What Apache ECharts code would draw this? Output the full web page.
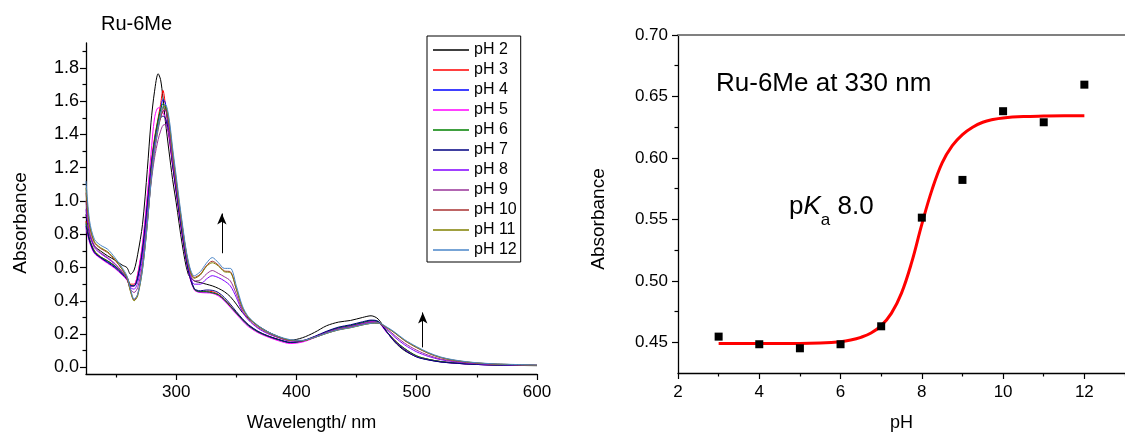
<!DOCTYPE html>
<html><head><meta charset="utf-8">
<script src="https://cdn.jsdelivr.net/npm/echarts@6/dist/echarts.min.js"></script>
<style>html,body{margin:0;padding:0;background:#fff}#c{width:1125px;height:437px}</style>
</head><body><div id="c"></div>
<script>
// ---------- Left panel: UV-vis spectra ----------
const wavelengths = [225,228,232,237,243,249,255,259,262,265,
  268,272,276,279,282,285,287,289,291,294,
  297,300,305,310,315,320,325,330,335,340,
  345,350,355,360,368,376,385,395,405,415,
  425,435,445,455,462,468,475,482,490,500,
  510,520,530,545,565,600];

const absPH2 = [0.92,0.80,0.73,0.70,0.67,0.645,0.615,0.60,0.56,0.585,
  0.68,0.86,1.19,1.47,1.66,1.765,1.73,1.62,1.48,1.30,
  1.13,0.99,0.74,0.56,0.52,0.51,0.50,0.49,0.475,0.455,
  0.425,0.38,0.33,0.295,0.25,0.215,0.185,0.163,0.178,0.21,
  0.25,0.272,0.282,0.30,0.31,0.29,0.215,0.15,0.10,0.064,
  0.045,0.033,0.026,0.019,0.014,0.01];
const absPH3 = [0.88,0.77,0.70,0.665,0.64,0.61,0.57,0.545,0.50,0.50,
  0.56,0.73,1.00,1.22,1.38,1.50,1.58,1.665,1.58,1.40,
  1.22,1.06,0.80,0.585,0.47,0.455,0.458,0.455,0.44,0.41,
  0.37,0.33,0.29,0.255,0.215,0.19,0.168,0.15,0.158,0.183,
  0.213,0.237,0.25,0.268,0.278,0.272,0.215,0.16,0.112,0.068,
  0.048,0.035,0.028,0.02,0.015,0.011];
const absPH4 = [0.86,0.76,0.69,0.66,0.635,0.605,0.565,0.535,0.49,0.49,
  0.54,0.71,0.98,1.20,1.36,1.48,1.55,1.61,1.59,1.42,
  1.23,1.07,0.81,0.59,0.47,0.452,0.452,0.448,0.435,0.405,
  0.365,0.325,0.285,0.25,0.212,0.187,0.165,0.148,0.157,0.182,
  0.212,0.236,0.25,0.268,0.279,0.273,0.213,0.157,0.11,0.066,
  0.047,0.034,0.027,0.019,0.014,0.011];
const absPH5 = [0.84,0.75,0.685,0.655,0.625,0.595,0.555,0.525,0.485,0.49,
  0.56,0.75,1.04,1.28,1.50,1.56,1.56,1.53,1.50,1.38,
  1.21,1.05,0.79,0.58,0.465,0.45,0.448,0.445,0.43,0.40,
  0.36,0.32,0.28,0.245,0.208,0.183,0.16,0.143,0.152,0.178,
  0.208,0.232,0.246,0.264,0.276,0.27,0.21,0.155,0.108,0.064,
  0.046,0.033,0.026,0.019,0.014,0.012];
const absPH6 = [0.87,0.77,0.70,0.665,0.64,0.61,0.57,0.54,0.495,0.49,
  0.54,0.71,0.98,1.20,1.37,1.49,1.55,1.585,1.57,1.42,
  1.23,1.07,0.81,0.59,0.47,0.455,0.455,0.448,0.437,0.407,
  0.367,0.327,0.287,0.252,0.213,0.188,0.166,0.149,0.158,0.183,
  0.213,0.237,0.251,0.269,0.28,0.274,0.216,0.16,0.113,0.069,
  0.048,0.035,0.028,0.02,0.015,0.011];
const absPH7 = [0.85,0.76,0.69,0.66,0.63,0.60,0.56,0.53,0.49,0.49,
  0.54,0.70,0.97,1.18,1.34,1.45,1.50,1.51,1.50,1.40,
  1.22,1.06,0.80,0.585,0.475,0.46,0.465,0.463,0.45,0.42,
  0.38,0.335,0.293,0.257,0.217,0.19,0.168,0.15,0.16,0.186,
  0.217,0.242,0.256,0.274,0.284,0.277,0.213,0.153,0.104,0.062,
  0.044,0.032,0.026,0.019,0.014,0.011];
const absPH8 = [0.95,0.80,0.72,0.685,0.655,0.62,0.575,0.54,0.48,0.47,
  0.51,0.66,0.93,1.16,1.33,1.45,1.51,1.54,1.545,1.43,
  1.25,1.09,0.83,0.61,0.50,0.50,0.53,0.551,0.54,0.52,
  0.49,0.42,0.335,0.285,0.235,0.203,0.178,0.158,0.16,0.182,
  0.21,0.232,0.245,0.262,0.272,0.268,0.228,0.18,0.135,0.093,
  0.065,0.046,0.035,0.024,0.017,0.012];
const absPH9 = [1.0,0.82,0.73,0.69,0.66,0.625,0.575,0.535,0.47,0.45,
  0.48,0.62,0.88,1.10,1.26,1.37,1.42,1.455,1.46,1.40,
  1.25,1.10,0.84,0.62,0.52,0.525,0.56,0.582,0.565,0.545,
  0.52,0.44,0.345,0.29,0.24,0.207,0.18,0.16,0.16,0.181,
  0.208,0.23,0.243,0.26,0.27,0.267,0.233,0.19,0.145,0.103,
  0.072,0.05,0.038,0.026,0.018,0.013];
const absPH10 = [1.05,0.85,0.75,0.715,0.69,0.645,0.59,0.54,0.46,0.405,
  0.44,0.60,0.87,1.12,1.30,1.43,1.50,1.54,1.55,1.46,
  1.29,1.12,0.85,0.63,0.54,0.56,0.61,0.638,0.615,0.58,
  0.575,0.47,0.36,0.30,0.248,0.212,0.183,0.163,0.16,0.18,
  0.205,0.226,0.24,0.256,0.265,0.266,0.24,0.205,0.16,0.118,
  0.083,0.058,0.043,0.029,0.02,0.013];
const absPH11 = [1.08,0.86,0.755,0.72,0.695,0.65,0.59,0.54,0.455,0.40,
  0.43,0.59,0.86,1.12,1.31,1.45,1.52,1.56,1.57,1.48,
  1.30,1.13,0.855,0.63,0.535,0.555,0.605,0.629,0.61,0.575,
  0.57,0.47,0.36,0.30,0.248,0.212,0.183,0.163,0.16,0.179,
  0.204,0.225,0.238,0.255,0.264,0.265,0.24,0.206,0.162,0.12,
  0.085,0.06,0.044,0.03,0.02,0.013];
const absPH12 = [1.12,0.88,0.77,0.735,0.71,0.66,0.60,0.55,0.47,0.41,
  0.44,0.59,0.86,1.11,1.30,1.44,1.52,1.57,1.58,1.50,
  1.32,1.15,0.87,0.64,0.55,0.575,0.625,0.66,0.63,0.595,
  0.595,0.49,0.37,0.305,0.252,0.215,0.186,0.166,0.162,0.18,
  0.205,0.226,0.239,0.256,0.265,0.267,0.243,0.21,0.166,0.124,
  0.088,0.062,0.046,0.031,0.021,0.014];

const spectraNames = ['pH 2','pH 3','pH 4','pH 5','pH 6','pH 7','pH 8','pH 9','pH 10','pH 11','pH 12'];
const spectra = [absPH2,absPH3,absPH4,absPH5,absPH6,absPH7,absPH8,absPH9,absPH10,absPH11,absPH12];

// arrows: [wavelength, from absorbance, to absorbance]
const arrows = [[338,0.686,0.925],[505,0.12,0.33]];

const leftXMajor = [300,400,500,600];
const leftXMinor = [250,350,450,550];
const leftYMajor = [0,0.2,0.4,0.6,0.8,1.0,1.2,1.4,1.6,1.8];
const leftYMinor = [0.1,0.3,0.5,0.7,0.9,1.1,1.3,1.5,1.7,1.9];

// ---------- Right panel: titration at 330 nm ----------
const measPH = [3,4,5,6,7,8,9,10,11,12];
const measAbs = [0.4546,0.4484,0.4451,0.4484,0.463,0.5514,0.5821,0.638,0.629,0.6596];
const fitPH = [3,4,5,5.5,6,6.25,6.5,6.75,7,7.25,7.5,7.75,8,8.25,8.5,8.75,9,9.25,9.5,9.75,10,10.5,11,11.5,12];
const fitAbs = [0.449,0.449,0.449,0.4494,0.4505,0.4518,0.454,0.4575,0.4635,0.4735,0.49,0.515,0.546,0.574,0.596,0.61,0.619,0.625,0.629,0.6312,0.6325,0.6336,0.634,0.6342,0.6342];

const rightXMajor = [2,4,6,8,10,12];
const rightXMinor = [3,5,7,9,11,13];
const rightYMajor = [0.45,0.50,0.55,0.60,0.65,0.70];
const rightYMinor = [0.475,0.525,0.575,0.625,0.675];

// ---------- styles ----------
const FONT = 'Liberation Sans, Arial, sans-serif';
const spectraColors = ['#000000','#ff0000','#0000ff','#ff00ff','#008000','#000080','#8000ff','#993399','#a83232','#808000','#4a86c8'];

const chart = echarts.init(document.getElementById('c'), null, {renderer:'canvas'});

function majorAxis(gridIndex, min, max, ticks, fmt, extra) {
  return Object.assign({
    type:'value', gridIndex, min, max,
    axisLine:{show:true, onZero:false, lineStyle:{color:'#000', width:1.3}},
    axisTick:{show:true, inside:false, length:6, customValues:ticks, lineStyle:{color:'#000', width:1.2}},
    axisLabel:{show:true, customValues:ticks, formatter:fmt, color:'#000', fontSize:17, fontFamily:FONT},
    splitLine:{show:false}
  }, extra);
}
function minorAxis(gridIndex, min, max, ticks, position) {
  return {
    type:'value', gridIndex, min, max, position,
    axisLine:{show:false, onZero:false},
    axisTick:{show:true, inside:false, length:3.5, customValues:ticks, lineStyle:{color:'#000', width:1.2}},
    axisLabel:{show:false},
    splitLine:{show:false}
  };
}

const series = spectra.map((vals, i) => ({
  name: spectraNames[i],
  type:'line', xAxisIndex:0, yAxisIndex:0,
  data: wavelengths.map((w, j) => [w, vals[j]]),
  symbol:'none', showSymbol:false, smooth:0.3,
  lineStyle:{width:1, color:spectraColors[i]},
  itemStyle:{color:spectraColors[i]},
  z: 2 + (i === 0 ? 0 : 1)
}));
series[0].markLine = {
  silent:true, symbol:['none','arrow'], symbolSize:[7,11],
  lineStyle:{color:'#000', width:1, type:'solid'},
  label:{show:false},
  data: arrows.map(a => [{coord:[a[0], a[1]]}, {coord:[a[0], a[2]]}])
};

series.push({
  name:'fit', type:'line', xAxisIndex:2, yAxisIndex:2,
  data: fitPH.map((p, i) => [p, fitAbs[i]]),
  symbol:'none', smooth:0.4,
  lineStyle:{width:3, color:'#ff0000'}, z:3
});
series.push({
  name:'data', type:'scatter', xAxisIndex:2, yAxisIndex:2,
  data: measPH.map((p, i) => [p, measAbs[i]]),
  symbol:'rect', symbolSize:8,
  itemStyle:{color:'#000', opacity:1}, z:4
});

const option = {
  animation:false,
  backgroundColor:'#ffffff',
  grid:[
    {left:86, top:43, width:451, height:334},
    {left:678, top:35, width:456, height:340}
  ],
  xAxis:[
    majorAxis(0, 225, 600, leftXMajor, v => String(v), {
      position:'bottom', name:'Wavelength/ nm', nameLocation:'middle', nameGap:40,
      nameTextStyle:{fontSize:18, color:'#000', fontFamily:FONT},
      axisLabel:{show:true, customValues:leftXMajor, color:'#000', fontSize:17, fontFamily:FONT, margin:10}
    }),
    minorAxis(0, 225, 600, leftXMinor, 'bottom'),
    majorAxis(1, 2, 13, rightXMajor, v => String(v), {
      position:'bottom', name:'pH', nameLocation:'middle', nameGap:41,
      nameTextStyle:{fontSize:18, color:'#000', fontFamily:FONT},
      axisLabel:{show:true, customValues:rightXMajor, color:'#000', fontSize:17, fontFamily:FONT, margin:11}
    }),
    minorAxis(1, 2, 13, rightXMinor, 'bottom'),
    {type:'value', gridIndex:1, min:2, max:13, position:'top',
     axisLine:{show:true, onZero:false, lineStyle:{color:'#808080', width:2}},
     axisTick:{show:false}, axisLabel:{show:false}, splitLine:{show:false}}
  ],
  yAxis:[
    majorAxis(0, -0.04, 1.95, leftYMajor, v => v.toFixed(1), {
      position:'left',
      axisLabel:{show:true, customValues:leftYMajor, formatter:v => v.toFixed(1), color:'#000', fontSize:18, fontFamily:FONT, margin:7}
    }),
    minorAxis(0, -0.04, 1.95, leftYMinor, 'left'),
    majorAxis(1, 0.425, 0.70, rightYMajor, v => v.toFixed(2), {
      position:'left',
      axisLabel:{show:true, customValues:rightYMajor, formatter:v => v.toFixed(2), color:'#000', fontSize:17, fontFamily:FONT, margin:10}
    }),
    minorAxis(1, 0.425, 0.70, rightYMinor, 'left')
  ],
  legend:{
    data: spectraNames,
    orient:'vertical', left:427, top:36,
    icon:'rect', itemWidth:36, itemHeight:1.5, itemGap:2,
    padding:[5,4,3,6],
    borderColor:'#000', borderWidth:1, borderRadius:0,
    backgroundColor:'#fff',
    selectedMode:false,
    textStyle:{fontSize:16, lineHeight:18, color:'#000', fontFamily:FONT}
  },
  graphic:[
    {type:'text', left:101, top:14, style:{text:'Ru-6Me', fontSize:20, fontFamily:FONT, fill:'#000'}},
    {type:'text', x:21, y:223, rotation:Math.PI/2,
     style:{text:'Absorbance', fontSize:19, fontFamily:FONT, fill:'#000', align:'center', verticalAlign:'middle'}},
    {type:'text', x:599, y:219, rotation:Math.PI/2,
     style:{text:'Absorbance', fontSize:19, fontFamily:FONT, fill:'#000', align:'center', verticalAlign:'middle'}},
    {type:'text', left:716, top:71, style:{text:'Ru-6Me at 330 nm', fontSize:26, fontFamily:FONT, fill:'#000'}},
    {type:'text', left:789, top:194, style:{
      text:'{n|p}{i|K}{s|a}{n| 8.0}',
      fill:'#000',
      rich:{
        n:{fontSize:26, fontFamily:FONT, lineHeight:44, fill:'#000'},
        i:{fontSize:26, fontFamily:FONT, fontStyle:'italic', lineHeight:44, fill:'#000'},
        s:{fontSize:17, fontFamily:FONT, lineHeight:17, verticalAlign:'bottom', fill:'#000'}
      }
    }}
  ],
  series
};
chart.setOption(option);
</script>
</body></html>
